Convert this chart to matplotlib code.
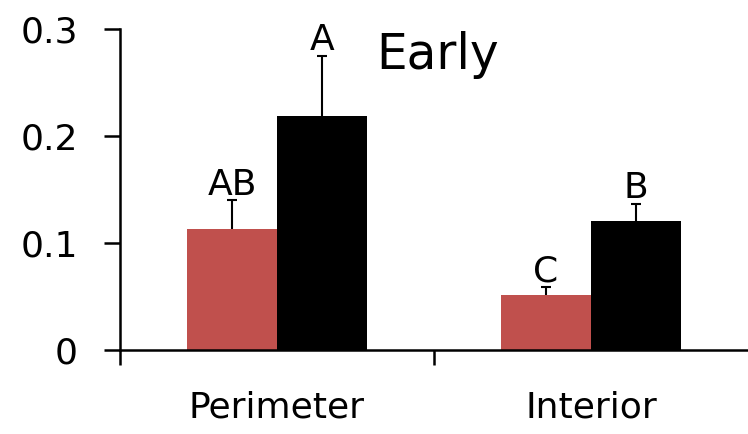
import matplotlib
matplotlib.use("Agg")
import matplotlib.pyplot as plt
import numpy as np

plt.rcParams['font.family'] = ['DejaVu Sans']

categories = ["Perimeter", "Interior"]
red_values = [0.113, 0.051]
red_errors = [0.027, 0.008]
black_values = [0.219, 0.121]
black_errors = [0.056, 0.016]
red_letters = ["AB", "C"]
black_letters = ["A", "B"]
y_ticks = [0, 0.1, 0.2, 0.3]
y_tick_labels = ["0", "0.1", "0.2", "0.3"]
title = "Early"

fig = plt.figure(figsize=(7.48, 4.34), dpi=100)
ax = fig.add_axes([120/748, (434-350)/434, 628/748, (350-29.3)/434])

x = np.arange(len(categories)) + 0.5
w = 0.287
red_col = "#C0504D"

ax.bar(x - w/2, red_values, width=w, color=red_col, zorder=2)
ax.bar(x + w/2, black_values, width=w, color="black", zorder=2)
for xs, vals, errs in [(x - w/2, red_values, red_errors), (x + w/2, black_values, black_errors)]:
    _, caps, _ = ax.errorbar(xs, vals, yerr=[np.zeros(len(vals)), errs],
                             fmt="none", ecolor="black", elinewidth=1.5,
                             capsize=3.6, capthick=1.5, zorder=3)
    caps[0].set_visible(False)

for xi, v, e, t in zip(x - w/2, red_values, red_errors, red_letters):
    ax.annotate(t, (xi, v + e), xytext=(0, 4), textcoords="offset points",
                ha="center", va="baseline", fontsize=26)
for xi, v, e, t in zip(x + w/2, black_values, black_errors, black_letters):
    ax.annotate(t, (xi, v + e), xytext=(0, 4), textcoords="offset points",
                ha="center", va="baseline", fontsize=26)

ax.text(0.5056, 0.875, title, transform=ax.transAxes, ha="center", va="baseline", fontsize=35)

ax.set_xlim(0, 2)
ax.set_ylim(0, 0.3)
ax.set_yticks(y_ticks)
ax.set_yticklabels(y_tick_labels, fontsize=26)
ax.set_xticks([0, 1])
ax.set_xticklabels([])
ax.set_xticks(x, minor=True)
ax.set_xticklabels(categories, minor=True, fontsize=26)
ax.tick_params(axis="x", which="minor", length=0, pad=29)
ax.tick_params(axis="x", which="major", direction="out", length=11, width=1.8)
ax.tick_params(axis="y", direction="out", length=11.5, width=1.8, pad=19)

for s in ["top", "right"]:
    ax.spines[s].set_visible(False)
for s in ["left", "bottom"]:
    ax.spines[s].set_linewidth(1.8)
ax.spines["bottom"].set_zorder(4)

fig.savefig("out.png", dpi=100)
